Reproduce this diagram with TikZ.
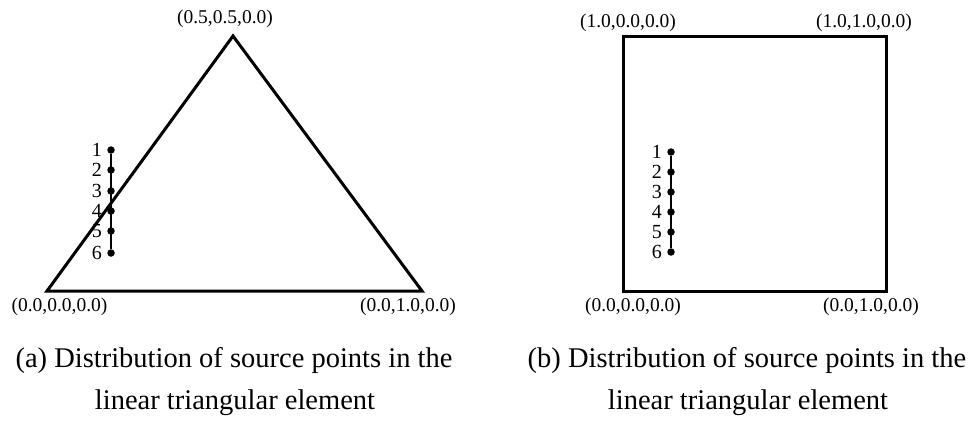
\documentclass[tikz,border=0pt]{standalone}
\usepackage{fontspec}
\setmainfont{Liberation Serif}
\begin{document}
\begin{tikzpicture}[x=1pt,y=-1pt,
  edge/.style={line width=3pt,line join=miter},
  srcline/.style={line width=2.5pt},
  srcpt/.style={circle,fill=black,inner sep=0pt,minimum size=7.5pt},
  numlbl/.style={anchor=east,inner sep=0pt,font=\fontsize{20}{20}\selectfont},
  coordlbl/.style={anchor=base,inner sep=0pt,font=\fontsize{19.5}{20}\selectfont},
  caplbl/.style={anchor=base,inner sep=0pt,font=\fontsize{28.5}{30}\selectfont}]
\useasboundingbox (0,0) rectangle (973,420);
% ---------- (a) triangle ----------
\coordinate (tA) at (47,291);
\coordinate (tB) at (233,36);
\coordinate (tC) at (422,291);
\draw[edge] (tA) -- (tB) -- (tC) -- cycle;
\node[coordlbl] (ltB) at (225,24) {(0.5,0.5,0.0)};
\node[coordlbl] (ltA) at (59.5,311) {(0.0,0.0,0.0)};
\node[coordlbl] (ltC) at (408,311) {(0.0,1.0,0.0)};
\foreach \i/\yy in {1/150,2/170,3/191,4/211,5/231,6/253}{
  \node[srcpt] (a\i) at (111,\yy) {};
  \node[numlbl] (na\i) at (102,\yy) {\i};
}
\draw[srcline] (a1) -- (a6);
% ---------- (b) square ----------
\coordinate (sA) at (623,291);
\coordinate (sB) at (623,37);
\coordinate (sC) at (886,37);
\coordinate (sD) at (886,291);
\draw[edge] (sA) -- (sB) -- (sC) -- (sD) -- cycle;
\node[coordlbl] (lsB) at (628,28) {(1.0,0.0,0.0)};
\node[coordlbl] (lsC) at (864,28) {(1.0,1.0,0.0)};
\node[coordlbl] (lsA) at (633,311) {(0.0,0.0,0.0)};
\node[coordlbl] (lsD) at (871,311) {(0.0,1.0,0.0)};
\foreach \i/\yy in {1/152,2/172,3/192,4/212,5/232,6/252}{
  \node[srcpt] (b\i) at (671,\yy) {};
  \node[numlbl] (nb\i) at (662,\yy) {\i};
}
\draw[srcline] (b1) -- (b6);
% ---------- captions ----------
\node[caplbl] (capa1) at (234,367) {(a) Distribution of source points in the};
\node[caplbl] (capa2) at (235,409) {linear triangular element};
\node[caplbl] (capb1) at (747,367) {(b) Distribution of source points in the};
\node[caplbl] (capb2) at (748,409) {linear triangular element};
\end{tikzpicture}
\end{document}
